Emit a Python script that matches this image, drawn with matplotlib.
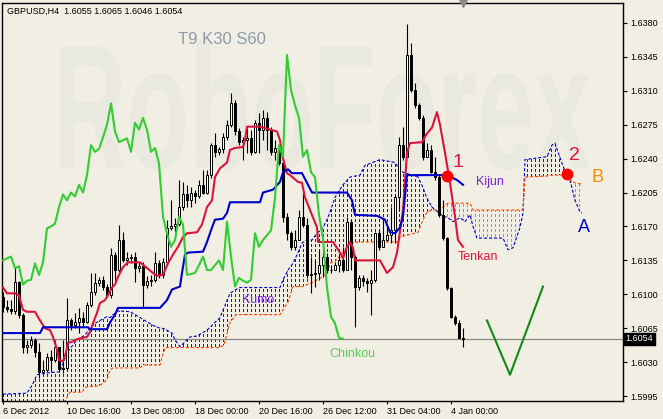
import numpy as np
import matplotlib.pyplot as plt
from matplotlib.path import Path
from matplotlib.patches import PathPatch
from matplotlib.textpath import TextPath
from matplotlib.font_manager import FontProperties
from matplotlib.transforms import Affine2D, blended_transform_factory

plt.rcParams['font.family'] = ['Liberation Sans', 'DejaVu Sans']
plt.rcParams['lines.scale_dashes'] = False

# --- data (H4 bars, x = bar index) ---
symbol = "GBPUSD,H4"
settings = "T9 K30 S60"
time_labels = ["6 Dec 2012", "10 Dec 16:00", "13 Dec 08:00", "18 Dec 00:00",
               "20 Dec 16:00", "26 Dec 12:00", "31 Dec 04:00", "4 Jan 00:00"]
label_step = 16          # bars between time labels
chinkou_shift = 30

first_open = 1.6097
closes = [1.6087, 1.6085, 1.6083, 1.6113, 1.6079, 1.6046, 1.6048, 1.6053, 1.6040, 1.6020,
          1.6022, 1.6035, 1.6032, 1.6046, 1.6023, 1.6024, 1.6073, 1.6068, 1.6071, 1.6076,
          1.6071, 1.6089, 1.6102, 1.6112, 1.6115, 1.6108, 1.6099, 1.6141, 1.6125, 1.6156,
          1.6135, 1.6137, 1.6139, 1.6127, 1.6129, 1.6110, 1.6114, 1.6115, 1.6132, 1.6120,
          1.6133, 1.6168, 1.6170, 1.6173, 1.6190, 1.6203, 1.6197, 1.6205, 1.6201, 1.6213,
          1.6205, 1.6223, 1.6254, 1.6247, 1.6250, 1.6262, 1.6275, 1.6297, 1.6268, 1.6257,
          1.6259, 1.6261, 1.6247, 1.6277, 1.6270, 1.6282, 1.6270, 1.6247, 1.6251, 1.6235,
          1.6180, 1.6163, 1.6149, 1.6156, 1.6180, 1.6172, 1.6120, 1.6121, 1.6122, 1.6130,
          1.6139, 1.6125, 1.6125, 1.6130, 1.6135, 1.6125, 1.6175, 1.6139, 1.6108, 1.6117,
          1.6114, 1.6112, 1.6115, 1.6163, 1.6149, 1.6156, 1.6161, 1.6166, 1.6200, 1.6254,
          1.6242, 1.6347, 1.6311, 1.6295, 1.6282, 1.6242, 1.6249, 1.6226, 1.6221, 1.6182,
          1.6158, 1.6107, 1.6077, 1.6070, 1.6055, 1.6054]
highs = [1.6102, 1.6094, 1.6094, 1.6128, 1.6114, 1.6081, 1.6053, 1.6057, 1.6055, 1.6050,
         1.6032, 1.6039, 1.6043, 1.6053, 1.6046, 1.6053, 1.6096, 1.6076, 1.6081, 1.6086,
         1.6082, 1.6092, 1.6122, 1.6122, 1.6118, 1.6119, 1.6111, 1.6148, 1.6144, 1.6172,
         1.6164, 1.6144, 1.6142, 1.6144, 1.6133, 1.6133, 1.6119, 1.6120, 1.6144, 1.6135,
         1.6137, 1.6177, 1.6197, 1.6179, 1.6218, 1.6216, 1.6213, 1.6211, 1.6208, 1.6218,
         1.6228, 1.6228, 1.6256, 1.6266, 1.6252, 1.6266, 1.6280, 1.6308, 1.6300, 1.6272,
         1.6262, 1.6272, 1.6270, 1.6280, 1.6287, 1.6290, 1.6288, 1.6273, 1.6259, 1.6252,
         1.6242, 1.6184, 1.6165, 1.6166, 1.6187, 1.6205, 1.6179, 1.6139, 1.6135, 1.6146,
         1.6149, 1.6143, 1.6130, 1.6133, 1.6141, 1.6149, 1.6180, 1.6177, 1.6141, 1.6120,
         1.6120, 1.6117, 1.6125, 1.6164, 1.6166, 1.6179, 1.6172, 1.6190, 1.6203, 1.6262,
         1.6273, 1.6379, 1.6359, 1.6318, 1.6297, 1.6285, 1.6256, 1.6254, 1.6242, 1.6223,
         1.6197, 1.6159, 1.6108, 1.6079, 1.6073, 1.6065]
lows = [1.6082, 1.6082, 1.6080, 1.6080, 1.6076, 1.6039, 1.6039, 1.6045, 1.6035, 1.6014,
        1.6018, 1.6020, 1.6020, 1.6030, 1.6020, 1.6019, 1.6022, 1.6063, 1.6065, 1.6060,
        1.6067, 1.6070, 1.6087, 1.6099, 1.6109, 1.6104, 1.6097, 1.6096, 1.6114, 1.6123,
        1.6133, 1.6130, 1.6132, 1.6113, 1.6123, 1.6086, 1.6107, 1.6109, 1.6113, 1.6117,
        1.6117, 1.6130, 1.6166, 1.6164, 1.6170, 1.6187, 1.6190, 1.6190, 1.6194, 1.6199,
        1.6203, 1.6203, 1.6220, 1.6242, 1.6244, 1.6246, 1.6259, 1.6273, 1.6264, 1.6254,
        1.6239, 1.6246, 1.6244, 1.6246, 1.6246, 1.6259, 1.6249, 1.6244, 1.6239, 1.6233,
        1.6175, 1.6156, 1.6146, 1.6146, 1.6156, 1.6169, 1.6117, 1.6101, 1.6108, 1.6115,
        1.6118, 1.6122, 1.6122, 1.6125, 1.6123, 1.6123, 1.6139, 1.6125, 1.6066, 1.6104,
        1.6109, 1.6102, 1.6079, 1.6113, 1.6146, 1.6153, 1.6156, 1.6153, 1.6153, 1.6187,
        1.6239, 1.6246, 1.6309, 1.6292, 1.6280, 1.6239, 1.6242, 1.6225, 1.6218, 1.6180,
        1.6156, 1.6104, 1.6076, 1.6068, 1.6055, 1.6046]

tenkan_x = [0, 1, 3, 4, 5, 6, 8, 9.25, 10.5, 11.75, 12.5, 13.5, 14, 15, 15.75, 16.25, 17.25,
            18.75, 21, 21.75, 22.5, 23.5, 24.25, 25.5, 26.25, 27.25, 28, 28.75, 30, 31.25,
            34.25, 37.5, 38.5, 40, 41.25, 42.5, 43.75, 45, 46, 48.5, 49.75, 51, 52.25, 53,
            54.25, 56, 56.75, 58, 60, 60.5, 61, 64.25, 66.75, 68.5, 69.25, 69.75, 71, 71.75,
            73.75, 74.75, 75.5, 76.75, 78.5, 78.75, 82.5, 84.25, 85, 86, 86.75, 87.5, 88,
            94.25, 96, 97.5, 98.5, 100, 101, 101.75, 104.75, 106, 107.25, 108.5, 109.25,
            110.5, 111.75, 113, 113.75, 115]
tenkan_y = [1.6107, 1.6101, 1.6101, 1.6099, 1.6084, 1.6082, 1.6082, 1.6073, 1.6065, 1.6063,
            1.6056, 1.6043, 1.6032, 1.6031, 1.6040, 1.6050, 1.6051, 1.6054, 1.6056, 1.6061,
            1.6070, 1.6081, 1.6091, 1.6094, 1.6099, 1.6107, 1.6110, 1.6118, 1.6128, 1.6133,
            1.6133, 1.6122, 1.6119, 1.6120, 1.6132, 1.6141, 1.6149, 1.6159, 1.6163, 1.6164,
            1.6172, 1.6190, 1.6197, 1.6221, 1.6230, 1.6236, 1.6249, 1.6251, 1.6252, 1.6259,
            1.6273, 1.6273, 1.6270, 1.6268, 1.6259, 1.6244, 1.6225, 1.6223, 1.6216, 1.6215,
            1.6200, 1.6187, 1.6169, 1.6154, 1.6154, 1.6143, 1.6137, 1.6149, 1.6154, 1.6148,
            1.6135, 1.6135, 1.6122, 1.6128, 1.6143, 1.6187, 1.6246, 1.6256, 1.6257, 1.6266,
            1.6272, 1.6288, 1.6275, 1.6246, 1.6215, 1.6180, 1.6156, 1.6149]

kijun_x = [0, 9.25, 10, 21.25, 21.75, 26, 26.75, 28, 28.75, 39.25, 41, 42.25, 44.25, 44.75,
           45.5, 46.25, 50, 51, 52.25, 53, 55, 56, 56.75, 64.25, 65, 67.5, 69.25, 70, 71.25,
           72.25, 74.75, 77.25, 86, 87.25, 88, 93.5, 95.5, 96.75, 98, 99.25, 100, 101, 111,
           113.5, 115]
kijun_y = [1.6060, 1.6060, 1.6066, 1.6066, 1.6064, 1.6064, 1.6071, 1.6079, 1.6086, 1.6086,
           1.6094, 1.6105, 1.6108, 1.6122, 1.6141, 1.6143, 1.6144, 1.6154, 1.6169, 1.6177,
           1.6178, 1.6184, 1.6195, 1.6195, 1.6205, 1.6208, 1.6216, 1.6226, 1.6229, 1.6225,
           1.6225, 1.6205, 1.6205, 1.6197, 1.6182, 1.6181, 1.6177, 1.6164, 1.6163, 1.6169,
           1.6180, 1.6223, 1.6223, 1.6218, 1.6213]

cloud_x = [0, 6, 7.25, 8.5, 11.25, 14.25, 15, 16, 16.75, 18.5,
           19.75, 20.5, 21.75, 23, 24.25, 26, 26.75, 27.5, 28.75, 31.75,
           34.25, 35, 37.5, 39.25, 39.75, 40.5, 42.25, 43, 44.25, 46.75,
           48.5, 51, 53, 54.25, 55.25, 56.75, 58.25, 59.25, 69.25, 70,
           71.25, 72.5, 73.75, 74.75, 76, 77.25, 78.5, 80, 81, 81.75,
           83, 85, 86.75, 89.25, 90.5, 94.25, 98, 98.75, 99.25, 100,
           103.75, 105, 106, 107.25, 109.25, 110.5, 111.25, 112.5, 114.25, 115.5,
           116.75, 117.5, 118.5, 125, 126.25, 127.5, 129.25, 130, 130.5, 136,
           137.25, 138, 138.75, 139.75, 140.75, 141.75, 143, 144.25, 144.75]
senkou_a = [1.5997, 1.5998, 1.6006, 1.6017, 1.6019, 1.6020, 1.6029, 1.6039, 1.6044, 1.6053,
            1.6056, 1.6058, 1.6065, 1.6070, 1.6073, 1.6077, 1.6076, 1.6079, 1.6083, 1.6082,
            1.6076, 1.6074, 1.6068, 1.6065, 1.6065, 1.6064, 1.6060, 1.6053, 1.6046, 1.6056,
            1.6057, 1.6063, 1.6071, 1.6076, 1.6086, 1.6101, 1.6105, 1.6107, 1.6107, 1.6115,
            1.6125, 1.6132, 1.6143, 1.6153, 1.6156, 1.6156, 1.6163, 1.6169, 1.6177, 1.6185,
            1.6200, 1.6213, 1.6221, 1.6223, 1.6233, 1.6239, 1.6236, 1.6231, 1.6229, 1.6226,
            1.6221, 1.6210, 1.6199, 1.6190, 1.6183, 1.6180, 1.6179, 1.6175, 1.6179, 1.6175,
            1.6182, 1.6170, 1.6158, 1.6158, 1.6146, 1.6148, 1.6169, 1.6184, 1.6239, 1.6242,
            1.6254, 1.6256, 1.6247, 1.6235, 1.6225, 1.6218, 1.6197, 1.6185, 1.6184]
senkou_b = [1.5981, 1.5981, 1.5981, 1.5981, 1.5981, 1.5981, 1.5986, 1.5994, 1.5999, 1.5999,
            1.5999, 1.6004, 1.6005, 1.6005, 1.6006, 1.6012, 1.6022, 1.6024, 1.6024, 1.6024,
            1.6024, 1.6027, 1.6027, 1.6027, 1.6035, 1.6045, 1.6045, 1.6045, 1.6045, 1.6045,
            1.6045, 1.6045, 1.6045, 1.6045, 1.6048, 1.6071, 1.6079, 1.6079, 1.6079, 1.6084,
            1.6092, 1.6108, 1.6108, 1.6108, 1.6110, 1.6112, 1.6115, 1.6118, 1.6122, 1.6132,
            1.6134, 1.6143, 1.6153, 1.6154, 1.6154, 1.6154, 1.6154, 1.6154, 1.6159, 1.6160,
            1.6164, 1.6177, 1.6185, 1.6187, 1.6187, 1.6192, 1.6194, 1.6194, 1.6194, 1.6194,
            1.6194, 1.6187, 1.6187, 1.6187, 1.6187, 1.6187, 1.6187, 1.6187, 1.6221, 1.6222,
            1.6223, 1.6223, 1.6223, 1.6223, 1.6221, 1.6218, 1.6215, 1.6214, 1.6213]

signal_x = [111, 141]
signal_y = [1.6222, 1.6224]
signal_names = ["1", "2"]

# forecast "V"
proj_x = [121, 126.75, 135]
proj_y = [1.6073, 1.6017, 1.6108]

kumo_label = (63.75, 1.6094)

# --- figure ---
BG = '#F1EFE3'
fig = plt.figure(figsize=(6.63, 4.19), dpi=100, facecolor=BG)
ax = fig.add_axes([2 / 663, 1 - 401 / 419, 621 / 663, 398 / 419], facecolor=BG)
ax.set_xlim(-0.25, 155)
ax.set_ylim(1.59899, 1.64006)
ymin, ymax = ax.get_ylim()

# watermark
tp = TextPath((0, 0), "RoboForex", size=1,
              prop=FontProperties(family='Liberation Sans', weight='bold'))
bb = tp.get_extents()
sx, sy = 0.8535 / bb.width, 0.3266 / bb.height
wm_tr = Affine2D().scale(sx, sy).translate(0.0934 - bb.x0 * sx, 0.5804 - bb.y0 * sy) + ax.transAxes
ax.add_patch(PathPatch(tp, transform=wm_tr, facecolor='#E9E9DF', edgecolor='none', zorder=0.5))

c = np.array(closes)
o = np.r_[first_open, c[:-1]]
h = np.maximum(np.array(highs), np.maximum(o, c))
l = np.minimum(np.array(lows), np.minimum(o, c))
n = len(c)
idx = np.arange(n)

# kumo: dotted vertical hatch on every bar, clipped to the cloud
ca, cb = np.array(senkou_a), np.array(senkou_b)
hatch_bars = np.arange(0, int(cloud_x[-1]) + 1)
for mask, col in [(ca >= cb, '#1414E6'), (cb > ca, '#F2784E')]:
    poly = ax.fill_between(cloud_x, ca, cb, where=mask, interpolate=True,
                           facecolor='none', edgecolor='none')
    paths = poly.get_paths()
    if not paths:
        continue
    clip = Path.make_compound_path(*paths)
    vl = ax.vlines(hatch_bars, ymin, ymax, colors=col, linewidth=0.75,
                   linestyles=[(0, (1.5, 1.5))], antialiased=False, zorder=1)
    vl.set_clip_path(clip, ax.transData)
ax.plot(cloud_x, senkou_a, color='#0000CD', lw=0.8, ls=(0, (2.2, 1.4)), zorder=1.5)
ax.plot(cloud_x, senkou_b, color='#FF4500', lw=0.8, ls=(0, (2.2, 1.4)), zorder=1.5)

# current price line
ax.axhline(c[-1], color='#8A8A8A', lw=0.9, zorder=1.2)

# candles
ax.vlines(idx, l, h, color='black', lw=0.8, zorder=2)
up = c >= o
ax.bar(idx, np.abs(c - o), bottom=np.minimum(o, c), width=0.7,
       color=np.where(up, 'white', 'black'), edgecolor='black', linewidth=0.7, zorder=2.1)

# ichimoku lines
ax.plot(tenkan_x, tenkan_y, color='#DC143C', lw=1.5, zorder=3)
ax.plot(kijun_x, kijun_y, color='#0000CD', lw=1.5, zorder=3)
ax.plot(idx[chinkou_shift:] - chinkou_shift, c[chinkou_shift:], color='#32CD32', lw=1.5, zorder=3)

# forecast and signals
ax.plot(proj_x, proj_y, color='#138A13', lw=1.5, zorder=3)
ax.plot(signal_x, signal_y, 'o', color='#FF0000', ms=7.5, zorder=4)
for sxv, syv, name, off in zip(signal_x, signal_y, signal_names, [(8, 10), (5, 13.5)]):
    ax.annotate(name, (sxv, syv), xytext=off, textcoords='offset points', ha='center',
                va='center', color='#DC143C', fontsize=14, zorder=5)

# line labels
ax.annotate("Kijun", (kijun_x[-1], kijun_y[-1]), xytext=(19.5, 2.2), textcoords='offset points',
            ha='center', va='center', color='#7A22E0', fontsize=9)
ax.annotate("Tenkan", (tenkan_x[-1], tenkan_y[-1]), xytext=(11, -7.2), textcoords='offset points',
            ha='center', va='center', color='#DC143C', fontsize=9)
ax.annotate("Chinkou", (n - 1 - chinkou_shift, c[-1]), xytext=(6.5, -11.2),
            textcoords='offset points', ha='center', va='center', color='#5CCB5C', fontsize=9)
ax.annotate("A", (cloud_x[-1], senkou_a[-1]), xytext=(1.5, -10.5), textcoords='offset points',
            ha='center', va='center', color='#0000CD', fontsize=13)
ax.annotate("B", (cloud_x[-1], senkou_b[-1]), xytext=(11, 5), textcoords='offset points',
            ha='center', va='center', color='#FF8C00', fontsize=13)
ax.text(*kumo_label, "Kumo", ha='center', va='center', color='#7A22E0', fontsize=9, zorder=5)

# header texts
ax.text(0.008, 0.99, f"{symbol}  {o[-1]:.4f} {h[-1]:.4f} {l[-1]:.4f} {c[-1]:.4f}",
        transform=ax.transAxes, ha='left', va='top', fontsize=6.5, color='black')
ax.text(0.2834, 0.9095, settings, transform=ax.transAxes, ha='left', va='center',
        fontsize=12, color='#8C9AAB')

# shift marker at top
ax.plot([n - 1], [ymax], marker='v', color='#8A8A8A', ms=6, clip_on=False, zorder=5)

# axes styling
ax.yaxis.tick_right()
yt = 1.5995 + 0.0035 * np.arange(12)
ax.set_yticks(yt)
ax.set_yticklabels([f"{v:.4f}" for v in yt])
ax.tick_params(axis='y', length=3, width=0.8, pad=2, labelsize=6.5, colors='black')
ax.set_xticks(np.arange(len(time_labels)) * label_step)
ax.set_xticklabels(time_labels, ha='left')
ax.tick_params(axis='x', length=2.5, width=0.8, pad=1.5, labelsize=6.5)
for sp in ax.spines.values():
    sp.set_linewidth(1.0)
    sp.set_color('black')

# price box on the right
tr = blended_transform_factory(ax.transAxes, ax.transData)
ax.text(1.004, c[-1], f"{c[-1]:.4f}", transform=tr, ha='left', va='center', fontsize=6.5,
        color='white', bbox=dict(facecolor='black', edgecolor='black', pad=1.3), zorder=6)

fig.savefig("out.png", dpi=100, facecolor=BG)
